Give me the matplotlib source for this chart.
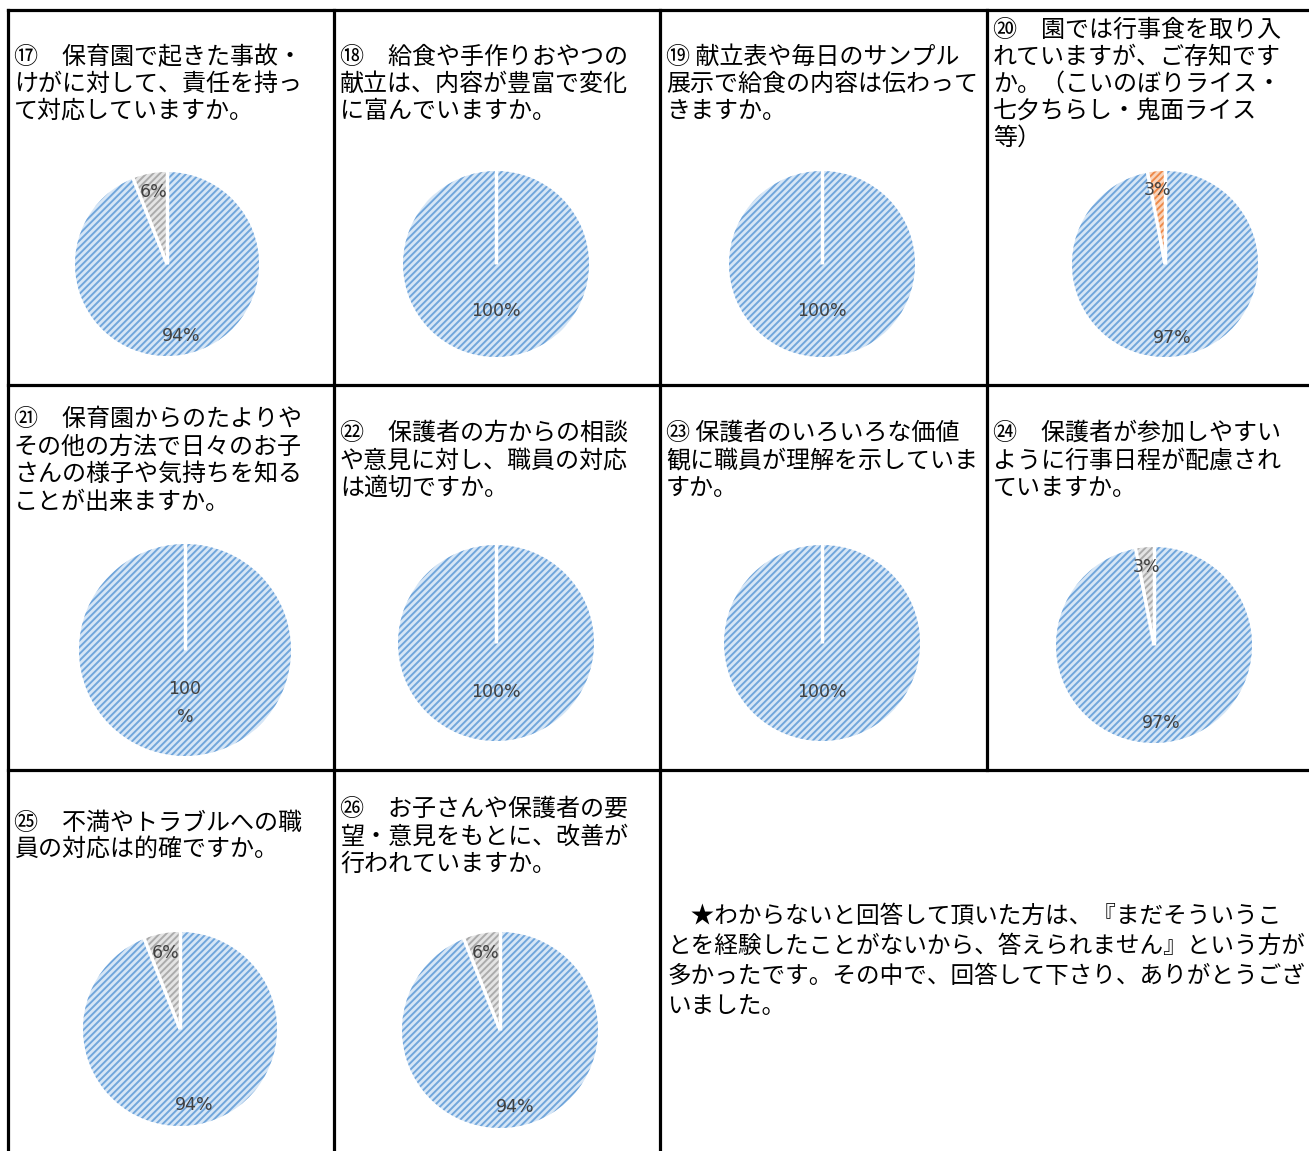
import numpy as np
import matplotlib
matplotlib.use("Agg")
import matplotlib.pyplot as plt

plt.rcParams['font.family'] = ['Noto Sans CJK JP', 'DejaVu Sans']
plt.rcParams['hatch.linewidth'] = 1.4

W, H = 1309, 1151

# question texts, broken into lines as on the sheet
questions = [
    ["⑰　保育園で起きた事故・", "けがに対して、責任を持っ", "て対応していますか。"],
    ["⑱　給食や手作りおやつの", "献立は、内容が豊富で変化", "に富んでいますか。"],
    ["⑲ 献立表や毎日のサンプル", "展示で給食の内容は伝わって", "きますか。"],
    ["⑳　園では行事食を取り入", "れていますが、ご存知です", "か。（こいのぼりライス・",
     "七夕ちらし・鬼面ライス", "等）"],
    ["㉑　保育園からのたよりや", "その他の方法で日々のお子", "さんの様子や気持ちを知る",
     "ことが出来ますか。"],
    ["㉒　保護者の方からの相談", "や意見に対し、職員の対応", "は適切ですか。"],
    ["㉓ 保護者のいろいろな価値", "観に職員が理解を示していま", "すか。"],
    ["㉔　保護者が参加しやすい", "ように行事日程が配慮され", "ていますか。"],
    ["㉕　不満やトラブルへの職", "員の対応は的確ですか。"],
    ["㉖　お子さんや保護者の要", "望・意見をもとに、改善が", "行われていますか。"],
]

# answers in percent
yes_pct = [94, 100, 100, 97, 100, 100, 100, 97, 94, 94]
other_pct = [6, 0, 0, 3, 0, 0, 0, 3, 6, 6]
other_kind = ["gray", "gray", "gray", "orange", "gray", "gray", "gray", "gray", "gray", "gray"]

note_lines = [
    "　★わからないと回答して頂いた方は、『まだそういうこ",
    "とを経験したことがないから、答えられません』という方が",
    "多かったです。その中で、回答して下さり、ありがとうござ",
    "いました。",
]

# layout (pixels)
text_x = [14, 340, 666, 993, 14, 340, 666, 993, 14, 340]
text_y0 = [57, 57, 57, 30, 419, 433, 433, 433, 823, 809]
line_h = [27, 27, 27, 27, 27.5, 27.5, 27.5, 27.5, 27, 27.5]
pie_c = [(167, 264), (496, 264), (822, 264), (1165, 264), (185, 650),
         (496, 643), (822, 643), (1154, 645), (180, 1029), (500, 1030)]
pie_r = [92, 93, 93, 93, 106, 98, 98, 98, 97, 98]

blue_bg, blue_st = "#d6e6f6", "#71a6db"
kind_col = {"gray": ("#e4e4e4", "#ababab"), "orange": ("#f9d6bd", "#ee8a4a")}

fig = plt.figure(figsize=(W / 100, H / 100), dpi=100)
ax = fig.add_axes([0, 0, 1, 1])
ax.set_xlim(0, W)
ax.set_ylim(H, 0)
ax.axis("off")

# table borders
lw = 2.3
ax.plot([8, W], [10, 10], color="black", lw=lw)
ax.plot([8, W], [385, 385], color="black", lw=lw)
ax.plot([8, W], [770, 770], color="black", lw=lw)
ax.plot([8, 8], [10, H], color="black", lw=lw)
ax.plot([334, 334], [10, H], color="black", lw=lw)
ax.plot([660, 660], [10, H], color="black", lw=lw)
ax.plot([987, 987], [10, 770], color="black", lw=lw)

for i, lines in enumerate(questions):
    for j, s in enumerate(lines):
        ax.text(text_x[i], text_y0[i] + j * line_h[i], s, fontsize=17.3,
                va="center", ha="left", color="black")

for j, s in enumerate(note_lines):
    ax.text(667, 916 + j * 30, s, fontsize=17, va="center", ha="left", color="black")

pad = 1.05
for i in range(len(yes_pct)):
    cx, cy = pie_c[i]
    r = pie_r[i] * pad
    pax = fig.add_axes([(cx - r) / W, 1 - (cy + r) / H, 2 * r / W, 2 * r / H])
    vals = [yes_pct[i]]
    cols = [(blue_bg, blue_st)]
    if other_pct[i] > 0:
        vals.append(other_pct[i])
        cols.append(kind_col[other_kind[i]])
    dist = 0.8 if len(vals) > 1 else 0.5
    wedges, _, autotexts = pax.pie(
        vals, startangle=90, counterclock=False, radius=1,
        autopct=lambda p: f"{p:.0f}%", pctdistance=dist,
        textprops=dict(color="#404040", fontsize=12.5, family="DejaVu Sans"),
        wedgeprops=dict(linewidth=0))
    for w, (bg, st) in zip(wedges, cols):
        w.set_facecolor(bg)
        w.set_edgecolor(st)
        w.set_hatch("/////")
    # white separators between slices
    bounds = 90 - 360 * np.cumsum([0] + vals[:-1]) / sum(vals)
    for b in bounds:
        t = np.deg2rad(b)
        pax.plot([0, np.cos(t) * 1.02], [0, np.sin(t) * 1.02], color="white", lw=2.5,
                 solid_capstyle="butt")
    if i == 4:
        autotexts[0].set_text("100\n%")
        autotexts[0].set_linespacing(1.7)
    pax.set_xlim(-pad, pad)
    pax.set_ylim(-pad, pad)
    pax.set_aspect("equal")
    pax.axis("off")

fig.savefig("out.png", dpi=100)
